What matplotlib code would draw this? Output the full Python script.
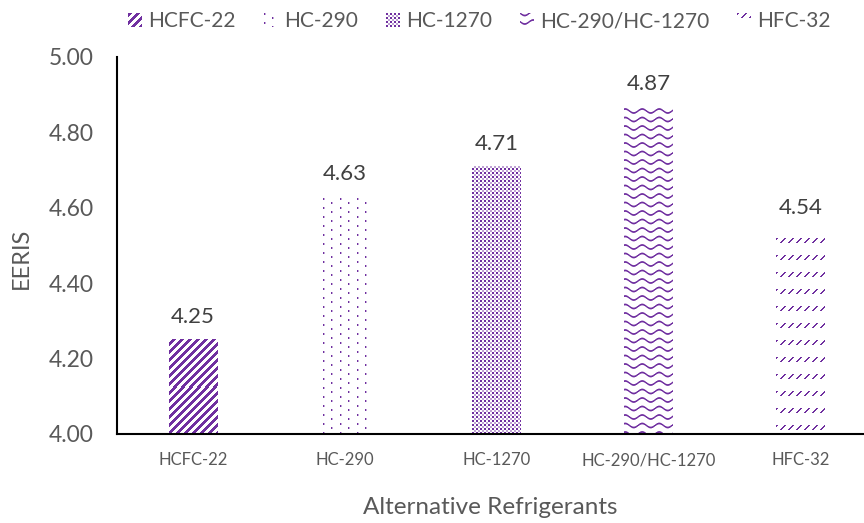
import matplotlib
matplotlib.use("Agg")
import matplotlib.pyplot as plt
import numpy as np
from matplotlib.legend_handler import HandlerBase
from matplotlib.image import BboxImage
from matplotlib.transforms import Bbox, TransformedBbox
from matplotlib.patches import Rectangle

plt.rcParams["font.family"] = ["Lato", "DejaVu Sans"]

refrigerants = ["HCFC-22", "HC-290", "HC-1270", "HC-290/HC-1270", "HFC-32"]
eeris = [4.25, 4.63, 4.71, 4.87, 4.54]
patterns = ["stripe", "sparse_dots", "dense_dots", "wave", "dashes"]

PURPLE = np.array([112, 48, 160]) / 255.0
TEXT = "#595959"
W, H, DPI = 8.64, 5.23, 100
Y0 = 4.0


def pattern_alpha(kind, xs, ys):
    """Coverage (0..1) of the purple ink at absolute pixel coords."""
    X, Y = np.meshgrid(xs, ys)
    if kind == "stripe":
        return (((X + Y) % 8) < 4).astype(float)
    if kind == "sparse_dots":
        a = ((X % 17 == 0) & (Y % 9 < 2)) | ((X % 17 == 8) & ((Y - 4) % 9 < 2))
        b = ((X % 17 == 1) & (Y % 9 < 2)) | ((X % 17 == 9) & ((Y - 4) % 9 < 2))
        return a * 1.0 + b * 0.4
    if kind == "dense_dots":
        a = ((X % 4) < 2) & ((Y % 4) < 2)
        b = ((X % 4) >= 2) & ((Y % 4) >= 2)
        return a * 1.0 + b * 0.45
    if kind == "wave":
        yc = 2.0 * np.sin(2 * np.pi * X / 17.0)
        m = (Y - yc) % 8.5
        dist = np.minimum(m, 8.5 - m)
        return np.clip(1.4 - dist, 0, 1)
    if kind == "dashes":
        row = Y % 17
        on_row = row < 5
        return (on_row & (((X + row) % 8) < 2)) * 1.0
    return np.zeros_like(X, dtype=float)


def texture(kind, x0, y0, w, h):
    xs = np.arange(int(round(x0)), int(round(x0)) + max(int(round(w)), 1))
    ys = np.arange(int(round(y0)), int(round(y0)) + max(int(round(h)), 1))
    a = np.clip(pattern_alpha(kind, xs, ys), 0, 1)
    img = np.ones(a.shape + (4,))
    img[..., :3] = PURPLE
    img[..., 3] = a
    return img


class TextureHandler(HandlerBase):
    def __init__(self, kind):
        super().__init__()
        self.kind = kind

    def create_artists(self, legend, orig_handle, xdescent, ydescent,
                       width, height, fontsize, trans):
        side = height * 0.95
        x0 = -xdescent + (width - side)
        y0 = -ydescent
        box = TransformedBbox(Bbox.from_bounds(x0, y0, side, side), trans)
        img = BboxImage(box, interpolation="nearest")
        img.set_data(texture(self.kind, 0, 0, 14, 14))
        return [img]


fig = plt.figure(figsize=(W, H), dpi=DPI)
ax = fig.add_axes([117 / 864, (523 - 434) / 523, (864 - 117) / 864, (434 - 57) / 523])

x = np.arange(len(refrigerants))
heights = [v - Y0 for v in eeris]
bars = ax.bar(x, heights, bottom=Y0, width=0.32, color="none", edgecolor="none")

ax.set_xlim(-0.5, 4.42)
ax.set_ylim(Y0, 5.0)
yt = np.arange(4.0, 5.01, 0.2)
ax.set_yticks(yt)
ax.set_yticklabels([f"{v:.2f}" for v in yt])
ax.set_xticks(x)
ax.set_xticklabels(refrigerants)
ax.tick_params(axis="y", length=0, pad=17, labelsize=16.5, labelcolor=TEXT)
ax.tick_params(axis="x", length=0, pad=13, labelsize=12, labelcolor=TEXT)
for s in ["top", "right"]:
    ax.spines[s].set_visible(False)
for s in ["left", "bottom"]:
    ax.spines[s].set_color("black")
    ax.spines[s].set_linewidth(1.5)

ax.set_xlabel("Alternative Refrigerants", fontsize=17.5, color=TEXT, labelpad=21)
ax.set_ylabel("EERIS", fontsize=17, color=TEXT, labelpad=12)
ax.yaxis.label.set_y(0.465)

# fill each bar with its pixel texture
fig.canvas.draw()
for bar, kind, val in zip(bars, patterns, eeris):
    (px0, py0), (px1, py1) = ax.transData.transform(
        [(bar.get_x(), Y0), (bar.get_x() + bar.get_width(), val)])
    img = texture(kind, px0, H * DPI - py1, px1 - px0, py1 - py0)
    ax.imshow(img, extent=(bar.get_x(), bar.get_x() + bar.get_width(), Y0, val),
              interpolation="nearest", aspect="auto", zorder=2)
    ax.annotate(f"{val:.2f}", (bar.get_x() + bar.get_width() / 2, val),
                xytext=(0, 9), textcoords="offset points", ha="center",
                va="bottom", fontsize=16, color="#404040")
ax.set_xlim(-0.5, 4.42)
ax.set_ylim(Y0, 5.0)

handles = [Rectangle((0, 0), 1, 1) for _ in refrigerants]
fig.legend(handles, refrigerants, loc="center", bbox_to_anchor=(478 / 864, 1 - 21 / 523),
           ncol=5, frameon=False, fontsize=15, labelcolor=TEXT,
           handler_map={h: TextureHandler(k) for h, k in zip(handles, patterns)},
           handlelength=0.8, handletextpad=0.3, columnspacing=1.2)

fig.savefig("out.png", dpi=DPI)
